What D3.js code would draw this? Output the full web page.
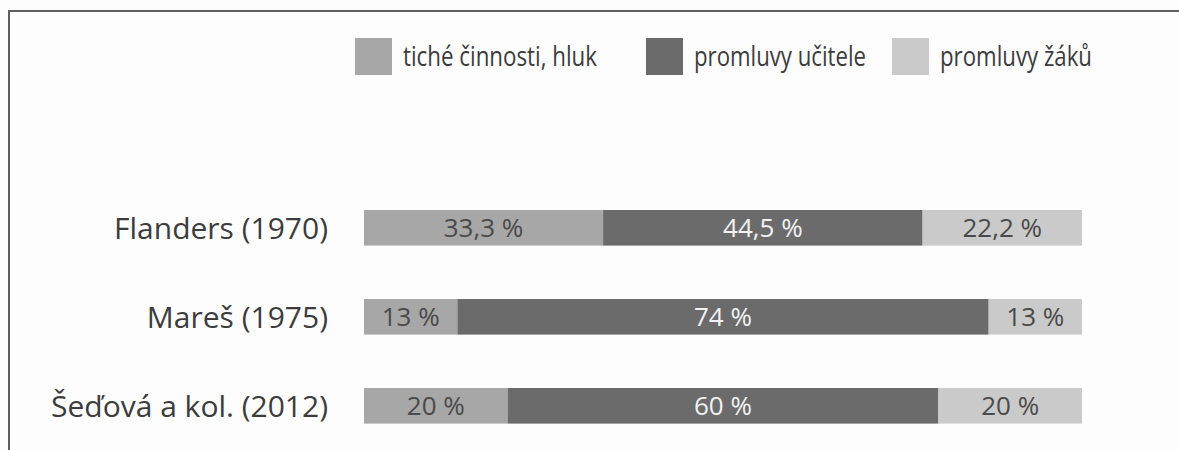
<!DOCTYPE html>
<html>
<head>
<meta charset="utf-8">
<script src="https://cdn.jsdelivr.net/npm/d3@7"></script>
<style>
  body { margin: 0; background: #fdfdfd; }
  svg { display: block; }
</style>
</head>
<body>
<div id="chart"></div>
<script>
//Chart data
var categories = ["Flanders (1970)", "Mareš (1975)", "Šeďová a kol. (2012)"];
var seriesNames = ["tiché činnosti, hluk", "promluvy učitele", "promluvy žáků"];
var quietNoise = [33.3, 13, 20];
var teacherTalk = [44.5, 74, 60];
var pupilTalk = [22.2, 13, 20];

var colors = ["#a7a7a7", "#6b6b6b", "#cacaca"];
var labelColors = ["#4a4a4a", "#f2f2f2", "#4a4a4a"];

var width = 1179, height = 450;

var svg = d3.select("#chart").append("svg")
    .attr("width", width)
    .attr("height", height);

//frame of the scanned box (left and top edges only)
svg.append("path")
    .attr("d", "M9," + height + "V11H" + width)
    .attr("fill", "none")
    .attr("stroke", "#5e5e5e")
    .attr("stroke-width", 2);

//scales
var x = d3.scaleLinear().domain([0, 100]).range([364, 1082]);
var y = d3.scaleBand().domain(categories).range([210, 423.6]).paddingInner(0.6).paddingOuter(0);

//stack the series
var rows = categories.map(function(c, i){
    return {cat: c, s0: quietNoise[i], s1: teacherTalk[i], s2: pupilTalk[i]};
});
var stacked = d3.stack().keys(["s0", "s1", "s2"])(rows);

var fmt = function(v){ return String(v).replace(".", ",") + " %"; };

var groups = svg.selectAll("g.series")
    .data(stacked)
    .enter().append("g")
    .attr("class", "series");

groups.selectAll("rect")
    .data(function(d){ return d; })
    .enter().append("rect")
    .attr("x", function(d){ return x(d[0]); })
    .attr("y", function(d){ return y(d.data.cat); })
    .attr("width", function(d){ return x(d[1]) - x(d[0]); })
    .attr("height", y.bandwidth())
    .attr("fill", function(d){ return colors[d3.select(this.parentNode).datum().index]; });

groups.selectAll("text")
    .data(function(d){ return d; })
    .enter().append("text")
    .attr("x", function(d){ return (x(d[0]) + x(d[1])) / 2; })
    .attr("y", function(d){ return y(d.data.cat) + y.bandwidth() / 2; })
    .attr("dy", "0.36em")
    .attr("text-anchor", "middle")
    .style("font-family", "'Open Sans', sans-serif")
    .style("font-size", "26px")
    .attr("fill", function(d){ return labelColors[d3.select(this.parentNode).datum().index]; })
    .text(function(d){ return fmt(+(d[1] - d[0]).toFixed(1)); });

//category labels
svg.selectAll("text.cat")
    .data(categories)
    .enter().append("text")
    .attr("class", "cat")
    .attr("x", 328)
    .attr("y", function(d){ return y(d) + y.bandwidth() / 2; })
    .attr("dy", "0.36em")
    .attr("text-anchor", "end")
    .style("font-family", "'Open Sans', sans-serif")
    .style("font-size", "30px")
    .attr("fill", "#3c3c3c")
    .text(function(d){ return d; });

//legend (condensed face, squeezed to the printed widths)
var legendX = [355, 646, 892];
var legendTextWidth = [194, 172, 152];
var legend = svg.selectAll("g.legend")
    .data(seriesNames)
    .enter().append("g")
    .attr("class", "legend")
    .attr("transform", function(d, i){ return "translate(" + legendX[i] + ",38)"; });

legend.append("rect")
    .attr("width", 37)
    .attr("height", 37)
    .attr("fill", function(d, i){ return colors[i]; });

legend.append("text")
    .attr("x", 48)
    .attr("y", 18.5)
    .attr("dy", "0.36em")
    .attr("textLength", function(d, i){ return legendTextWidth[i]; })
    .attr("lengthAdjust", "spacingAndGlyphs")
    .style("font-family", "'Open Sans', sans-serif")
    .style("font-size", "27px")
    .attr("fill", "#3c3c3c")
    .text(function(d){ return d; });
</script>
</body>
</html>
